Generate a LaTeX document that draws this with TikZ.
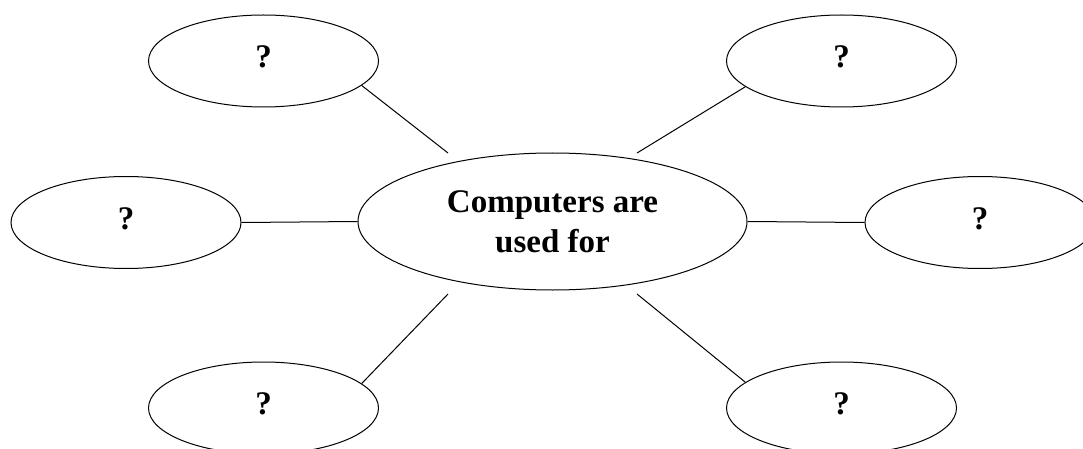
\documentclass[tikz,border=0pt]{standalone}
\usepackage{fontspec}
\setmainfont{Liberation Serif}
\usetikzlibrary{shapes.geometric}
\tikzset{
  bubble/.style={draw=black, line width=1pt, ellipse, inner sep=0pt,
    minimum width=230pt, minimum height=92pt, text depth=8pt,
    font=\bfseries\fontsize{33}{40}\selectfont},
  hub/.style={draw=black, line width=1pt, ellipse, inner sep=0pt,
    minimum width=389pt, minimum height=137pt, align=center,
    font=\bfseries\fontsize{33}{40}\selectfont},
  link/.style={draw=black, line width=1pt}
}
\begin{document}
\begin{tikzpicture}[x=1pt,y=-1pt]
\useasboundingbox (0,0) rectangle (1083,449);
\node[hub] (c) at (552.5,221.5) {Computers are\\used for};
\node[bubble] (tl) at (263.5,61) {?};
\node[bubble] (tr) at (841.5,61) {?};
\node[bubble] (l) at (126,222.5) {?};
\node[bubble] (r) at (980,222.5) {?};
\node[bubble] (bl) at (263.5,408) {?};
\node[bubble] (br) at (841.5,408) {?};
\coordinate (c1) at (448,153);
\coordinate (c2) at (637,153);
\coordinate (c3) at (448,294);
\coordinate (c4) at (637,294);
\draw[link] (tl.-14.25) -- (c1);
\draw[link] (tr.195.4) -- (c2);
\draw[link] (bl.14.5) -- (c3);
\draw[link] (br.165.2) -- (c4);
\draw[link] (l.east) -- (c.west);
\draw[link] (c.east) -- (r.west);
\end{tikzpicture}
\end{document}
